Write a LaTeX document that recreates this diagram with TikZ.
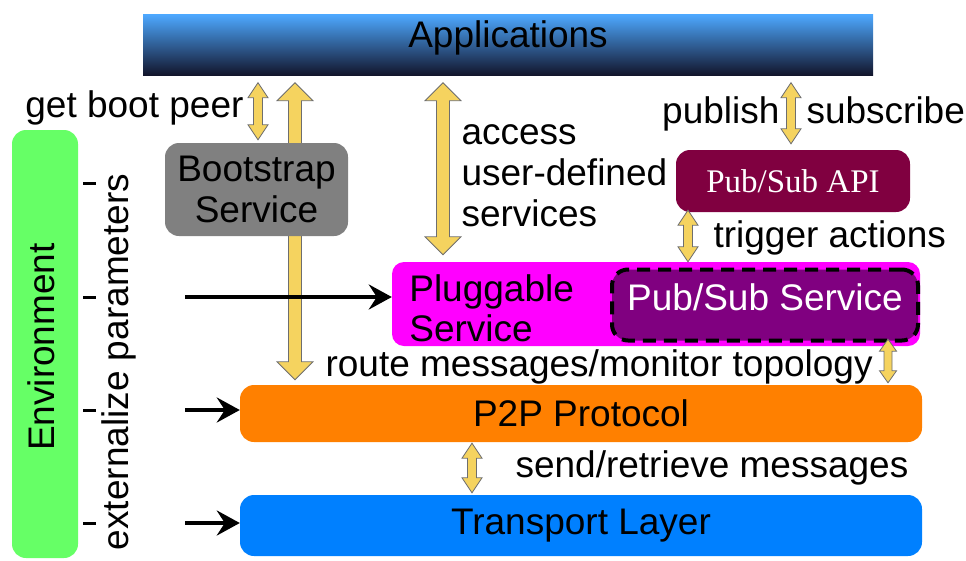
\documentclass[tikz,border=0pt]{standalone}
\usepackage{fontspec}
\setmainfont{Liberation Sans}
\newfontfamily\apifont{Liberation Serif}
\usetikzlibrary{calc,arrows.meta,backgrounds}

\definecolor{appstop}{HTML}{4DA8FF}
\definecolor{appsbottom}{HTML}{12142A}
\definecolor{envgreen}{HTML}{66FF66}
\definecolor{bootgray}{HTML}{808080}
\definecolor{apimaroon}{HTML}{800040}
\definecolor{plugpink}{HTML}{FF00FF}
\definecolor{pubpurple}{HTML}{800080}
\definecolor{p2porange}{HTML}{FF8000}
\definecolor{transblue}{HTML}{0080FF}
\definecolor{arrowgold}{HTML}{F5D35F}
\definecolor{arrowedge}{HTML}{6E6E6E}

\newcommand{\bigfont}{\fontsize{37}{41}\selectfont}
\newcommand{\dblarrow}[5]{%
  \path[goldarrow] let \p1=(#1), \p2=(#2) in
    (\x1,\y1) -- (\x1+#4,\y1-#5) -- (\x1+#3,\y1-#5) -- (\x1+#3,\y2+#5)
    -- (\x1+#4,\y2+#5) -- (\x1,\y2) -- (\x1-#4,\y2+#5) -- (\x1-#3,\y2+#5)
    -- (\x1-#3,\y1-#5) -- (\x1-#4,\y1-#5) -- cycle;}

\tikzset{
  layer/.style={rounded corners=14pt, inner sep=0pt},
  goldarrow/.style={fill=arrowgold, draw=arrowedge, line width=0.8pt, line join=miter},
  pushes/.style={line width=4pt, -{Stealth[length=23pt,width=25pt,inset=8pt]}},
  tick/.style={line width=3pt}
}

\begin{document}
\begin{tikzpicture}[x=1pt,y=-1pt,font=\bigfont,line cap=butt]
  \useasboundingbox (0,0) rectangle (966,560);

  \node[inner sep=0pt, minimum width=730pt, minimum height=61pt,
        top color=appstop, bottom color=appsbottom] (apps) at (508,45) {};
  \node[anchor=base] (appslabel) at (508,47) {Applications};

  \node[layer, fill=envgreen, minimum width=66pt, minimum height=428pt] (env) at (45,344) {};
  \node[rotate=90] (envlabel) at (41,347) {Environment};
  \node[rotate=90] (extparam) at (119,362) {externalize parameters};
  \foreach \y in {183,297,410,523}
    \draw[tick] (83,\y) -- (96,\y);

  \node[layer, fill=bootgray, minimum width=183pt, minimum height=93pt, align=center] (boot)
    at (256.5,189.5) {Bootstrap\\Service};
  \node[layer, fill=apimaroon, text=white, font=\apifont\fontsize{33}{36}\selectfont,
        minimum width=234pt, minimum height=62pt] (api) at (793,181) {Pub/Sub API};
  \node[layer, rounded corners=12pt, fill=plugpink, minimum width=528pt, minimum height=84pt] (plug)
    at (656,304) {};
  \node[anchor=west, align=left, font=\fontsize{37}{40}\selectfont] (pluglabel)
    at ([xshift=14pt,yshift=-4pt]plug.west) {Pluggable\\Service};
  \node[layer, rounded corners=16pt, fill=pubpurple, draw=black, line width=4pt,
        dash pattern=on 13pt off 8pt, text=white, text height=27pt, text depth=17pt,
        minimum width=306pt, minimum height=71pt]
    (pubsvc) at (765,305) {Pub/Sub Service};
  \node[layer, fill=p2porange, minimum width=682pt, minimum height=57pt] (p2p)
    at (581,413.5) {P2P Protocol};
  \node[layer, fill=transblue, minimum width=682pt, minimum height=61pt] (trans)
    at (581,525.5) {Transport Layer};

  \node[anchor=base east] (bootpeer) at (247,117) {get boot peer};
  \node[anchor=west, align=left] (access) at (458,176) {access\\user-defined\\services};
  \node[anchor=base east] (publish) at (783,123) {publish};
  \node[anchor=base west] (subscribe) at (803,123) {subscribe};
  \node[anchor=base west] (trigger) at (710,247) {trigger actions};
  \node[anchor=base west] (route) at (322,376) {route messages/monitor topology};
  \node[anchor=base west] (sendmsg) at (512,477) {send/retrieve messages};

  \coordinate (gbtop) at ($(258,0 |- apps.south)+(0,7)$);
  \coordinate (gbbot) at ($(258,0 |- boot.north)+(0,-3)$);
  \coordinate (bigtop) at ($(295,0 |- apps.south)+(0,7)$);
  \coordinate (bigbot) at ($(295,0 |- p2p.north)+(0,-5)$);
  \coordinate (actop) at ($(443,0 |- apps.south)+(0,7)$);
  \coordinate (acbot) at ($(443,0 |- plug.north)+(0,-7)$);
  \coordinate (pstop) at ($(791,0 |- apps.south)+(0,7)$);
  \coordinate (psbot) at ($(791,0 |- api.north)+(0,-6)$);
  \coordinate (trtop) at ($(688,0 |- api.south)+(0,-2)$);
  \coordinate (trbot) at (688,0 |- plug.north);
  \coordinate (rotop) at ($(888,0 |- plug.south)+(0,-7)$);
  \coordinate (robot) at ($(888,0 |- p2p.north)+(0,-2)$);
  \coordinate (srtop) at ($(472,0 |- p2p.south)+(0,1)$);
  \coordinate (srbot) at ($(472,0 |- trans.north)+(0,-2)$);

  \begin{scope}[on background layer]
    \dblarrow{bigtop}{bigbot}{6.5pt}{18pt}{18pt}
  \end{scope}
  \dblarrow{gbtop}{gbbot}{4.5pt}{10pt}{15pt}
  \dblarrow{actop}{acbot}{6.5pt}{18pt}{18pt}
  \dblarrow{pstop}{psbot}{4.5pt}{10pt}{15pt}
  \dblarrow{trtop}{trbot}{4.5pt}{10pt}{15pt}
  \dblarrow{rotop}{robot}{4pt}{8.5pt}{12pt}
  \dblarrow{srtop}{srbot}{4.5pt}{10pt}{15pt}

  \coordinate (ext1) at (185,297);
  \coordinate (ext2) at (185,410);
  \coordinate (ext3) at (185,523);
  \draw[pushes] (ext1) -- (ext1 -| plug.west);
  \draw[pushes] (ext2) -- (ext2 -| p2p.west);
  \draw[pushes] (ext3) -- (ext3 -| trans.west);
\end{tikzpicture}
\end{document}
